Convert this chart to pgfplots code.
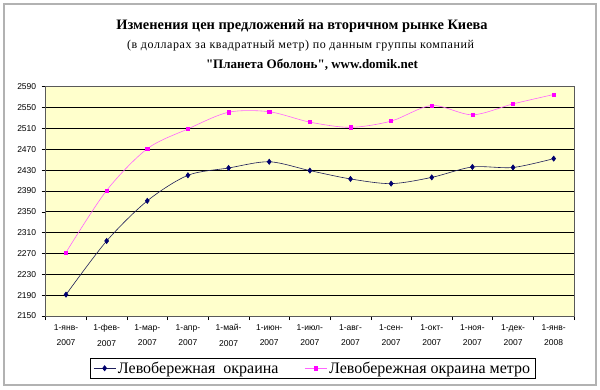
\documentclass[border=0pt]{standalone}
\usepackage{pgfplots}
\pgfplotsset{compat=1.18}
\usepackage{fontspec}
\setmainfont{Liberation Serif}
\newfontfamily\titlefont[Ligatures=TeXOff]{Liberation Serif}
\newfontfamily\subfont[LetterSpace=5]{Liberation Serif}
\newfontfamily\arial{Liberation Sans}
\definecolor{bgyel}{HTML}{FFFFCC}
\definecolor{navyc}{RGB}{0,0,110}
\definecolor{navyl}{RGB}{30,30,90}
\definecolor{magc}{RGB}{255,0,255}
\definecolor{magl}{RGB}{255,100,255}
\begin{document}
\begin{tikzpicture}[x=1pt,y=1pt]
\draw[gray!60, line width=1.2pt] (4,4) rectangle (596,385);
\node[font=\titlefont\fontsize{14.4}{16}\selectfont\bfseries] at (302,362.5) {Изменения цен предложений на вторичном рынке Киева};
\node[font=\subfont\fontsize{12}{13}\selectfont] at (300.5,343.5) {(в долларах за квадратный метр) по данным группы компаний};
\node[font=\titlefont\fontsize{13}{15}\selectfont\bfseries] at (312,324) {"Планета Оболонь", www.domik.net};
\begin{axis}[
  at={(45.7pt,73pt)}, anchor=south west,
  scale only axis, width=528.3pt, height=229.3pt,
  xmin=-0.5, xmax=12.5, ymin=2150, ymax=2590,
  axis background/.style={fill=bgyel},
  axis line style={gray!70!black, line width=0.6pt},
  ytick={2150,2190,...,2590},
  ymajorgrids, major grid style={black, line width=0.6pt},
  xtick={0,...,12},
  xticklabels={1-янв-\\2007,1-фев-\\2007,1-мар-\\2007,1-апр-\\2007,1-май-\\2007,1-июн-\\2007,1-июл-\\2007,1-авг-\\2007,1-сен-\\2007,1-окт-\\2007,1-ноя-\\2007,1-дек-\\2007,1-янв-\\2008},
  minor xtick={-0.5,0.5,...,12.5},
  x tick style={draw=none},
  minor x tick style={draw=black, line width=0.5pt},
  minor tick length=4pt,
  y tick style={black, line width=0.5pt},
  major tick length=4pt,
  tick align=outside,
  xtick pos=bottom, ytick pos=left,
  x tick label style={font=\arial\fontsize{8.5}{15.5}\selectfont, align=center, yshift=-1pt},
  y tick label style={font=\arial\fontsize{8.5}{10}\selectfont, xshift=-2pt},
  /pgf/number format/assume math mode=true,
  /pgf/number format/1000 sep={},
  legend columns=2,
  legend style={at={(0.0839,-0.183)}, anchor=north west, draw=black, line width=0.6pt,
    font=\fontsize{16}{18}\selectfont, /tikz/every even column/.append style={column sep=24pt},
    inner xsep=3pt, inner ysep=1.5pt},
  legend image code/.code={\draw[#1, mark=none] (0pt,0pt) -- (22pt,0pt); \draw[#1, only marks] plot coordinates {(11pt,0pt)};},
]
\addplot[navyl, line width=0.6pt, smooth, tension=0.5, mark=diamond*, mark size=2.6pt, mark options={navyc, fill=navyc, solid}]
  coordinates {(0,2191) (1,2294) (2,2371) (3,2420) (4,2434) (5,2446) (6,2429) (7,2413) (8,2404) (9,2416) (10,2436) (11,2435) (12,2452)};
\addlegendentry{Левобережная\ \ окраина}
\addplot[magl, line width=0.6pt, smooth, tension=0.5, mark=square*, mark size=1.6pt, mark options={magc, fill=magc, solid}]
  coordinates {(0,2272) (1,2391) (2,2471) (3,2509) (4,2541) (5,2542) (6,2522) (7,2512) (8,2524) (9,2554) (10,2536) (11,2557) (12,2575)};
\addlegendentry{Левобережная окраина метро}
\end{axis}
\pgfresetboundingbox
\path[use as bounding box] (0,0) rectangle (600,389);
\end{tikzpicture}
\end{document}
